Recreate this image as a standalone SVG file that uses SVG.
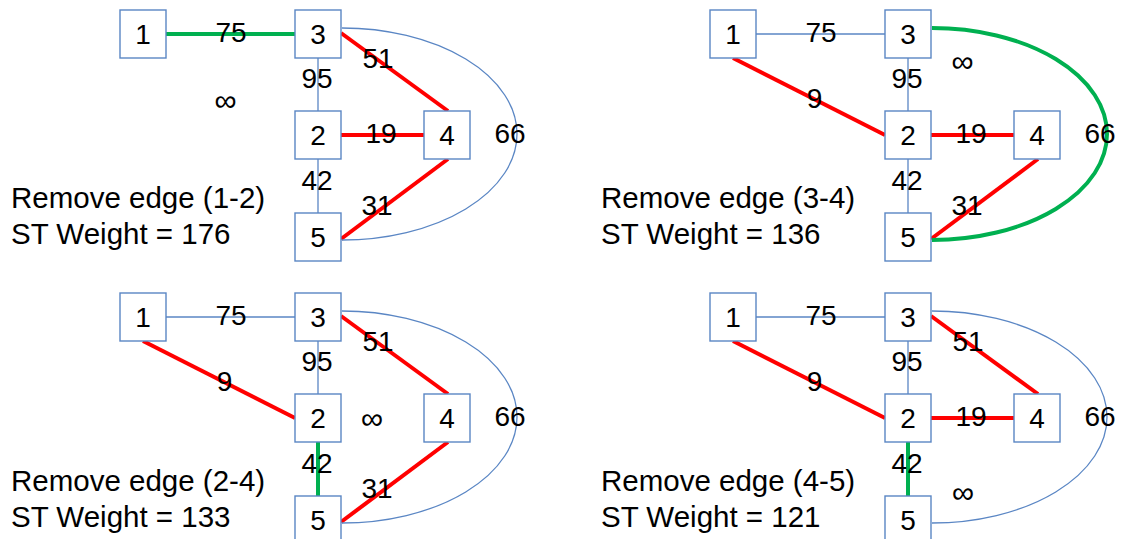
<svg xmlns="http://www.w3.org/2000/svg" width="1122" height="539" viewBox="0 0 1122 539">
<style>
.bg{fill:#ffffff}
.box{fill:#ffffff;stroke:#5a86c4;stroke-width:1.4}
.thin{fill:none;stroke:#5a86c4;stroke-width:1.3}
.red{fill:none;stroke:#ff0000;stroke-width:4}
.green{fill:none;stroke:#00b050;stroke-width:4}
text{font-family:"Liberation Sans",Arial,sans-serif;fill:#000000}
.nl{font-size:28px;text-anchor:middle}
.el{font-size:28px;text-anchor:middle}
.inf{font-size:31px;text-anchor:middle}
.cap{font-size:29.5px}
</style>
<rect class="bg" x="0" y="0" width="1122" height="539"/>

<!-- Panel TL -->
<g id="panel-tl">
  <g id="tl-edges">
    <line class="green" x1="166" y1="34" x2="295" y2="34"/>
    <line class="thin" x1="318" y1="58" x2="318" y2="111"/>
    <line class="thin" x1="318" y1="159" x2="318" y2="213"/>
    <line class="red" x1="341" y1="135" x2="424" y2="135"/>
    <line class="red" x1="341" y1="33" x2="448" y2="111"/>
    <line class="red" x1="448" y1="159" x2="341" y2="239"/>
    <path class="thin" d="M342,28 A175,106 0 0 1 342,240"/>
    <text class="el" x="231" y="42">75</text>
    <text class="el" x="378" y="68">51</text>
    <text class="el" x="317" y="88">95</text>
    <text class="inf" x="225.5" y="110.5">∞</text>
    <text class="el" x="381" y="143">19</text>
    <text class="el" x="510" y="143">66</text>
    <text class="el" x="317" y="190">42</text>
    <text class="el" x="377" y="215">31</text>
  </g>
  <g id="tl-n1"><rect class="box" x="120" y="10" width="46" height="48"/><text class="nl" x="143" y="44">1</text></g>
  <g id="tl-n3"><rect class="box" x="295" y="10" width="46" height="48"/><text class="nl" x="318" y="44">3</text></g>
  <g id="tl-n2"><rect class="box" x="295" y="111" width="46" height="48"/><text class="nl" x="318" y="145">2</text></g>
  <g id="tl-n4"><rect class="box" x="424" y="111" width="46" height="48"/><text class="nl" x="447" y="145">4</text></g>
  <g id="tl-n5"><rect class="box" x="295" y="213" width="46" height="48"/><text class="nl" x="318" y="247">5</text></g>
  <text class="cap" x="11" y="208">Remove edge (1-2)</text>
  <text class="cap" x="11" y="244">ST Weight = 176</text>
</g>

<!-- Panel TR -->
<g id="panel-tr" transform="translate(590,0)">
  <g id="tr-edges">
    <line class="thin" x1="166" y1="34" x2="295" y2="34"/>
    <line class="red" x1="143" y1="58" x2="295" y2="135"/>
    <line class="thin" x1="318" y1="58" x2="318" y2="111"/>
    <line class="thin" x1="318" y1="159" x2="318" y2="213"/>
    <line class="red" x1="341" y1="135" x2="424" y2="135"/>
    <line class="red" x1="448" y1="159" x2="341" y2="239"/>
    <path class="green" d="M342,28 A175,106 0 0 1 342,240"/>
    <text class="el" x="231" y="42">75</text>
    <text class="inf" x="372.5" y="71.5">∞</text>
    <text class="el" x="317" y="88">95</text>
    <text class="el" x="224.5" y="108">9</text>
    <text class="el" x="381" y="143">19</text>
    <text class="el" x="510" y="143">66</text>
    <text class="el" x="317" y="190">42</text>
    <text class="el" x="377" y="215">31</text>
  </g>
  <g id="tr-n1"><rect class="box" x="120" y="10" width="46" height="48"/><text class="nl" x="143" y="44">1</text></g>
  <g id="tr-n3"><rect class="box" x="295" y="10" width="46" height="48"/><text class="nl" x="318" y="44">3</text></g>
  <g id="tr-n2"><rect class="box" x="295" y="111" width="46" height="48"/><text class="nl" x="318" y="145">2</text></g>
  <g id="tr-n4"><rect class="box" x="424" y="111" width="46" height="48"/><text class="nl" x="447" y="145">4</text></g>
  <g id="tr-n5"><rect class="box" x="295" y="213" width="46" height="48"/><text class="nl" x="318" y="247">5</text></g>
  <text class="cap" x="11" y="208">Remove edge (3-4)</text>
  <text class="cap" x="11" y="244">ST Weight = 136</text>
</g>

<!-- Panel BL -->
<g id="panel-bl" transform="translate(0,283)">
  <g id="bl-edges">
    <line class="thin" x1="166" y1="34" x2="295" y2="34"/>
    <line class="red" x1="143" y1="58" x2="295" y2="135"/>
    <line class="thin" x1="318" y1="58" x2="318" y2="111"/>
    <line class="green" x1="318" y1="159" x2="318" y2="213"/>
    <line class="red" x1="341" y1="33" x2="448" y2="111"/>
    <line class="red" x1="448" y1="159" x2="341" y2="239"/>
    <path class="thin" d="M342,28 A175,106 0 0 1 342,240"/>
    <text class="el" x="231" y="42">75</text>
    <text class="el" x="378" y="68">51</text>
    <text class="el" x="317" y="88">95</text>
    <text class="el" x="224.5" y="108">9</text>
    <text class="inf" x="372" y="145.5">∞</text>
    <text class="el" x="510" y="143">66</text>
    <text class="el" x="317" y="190">42</text>
    <text class="el" x="377" y="215">31</text>
  </g>
  <g id="bl-n1"><rect class="box" x="120" y="10" width="46" height="48"/><text class="nl" x="143" y="44">1</text></g>
  <g id="bl-n3"><rect class="box" x="295" y="10" width="46" height="48"/><text class="nl" x="318" y="44">3</text></g>
  <g id="bl-n2"><rect class="box" x="295" y="111" width="46" height="48"/><text class="nl" x="318" y="145">2</text></g>
  <g id="bl-n4"><rect class="box" x="424" y="111" width="46" height="48"/><text class="nl" x="447" y="145">4</text></g>
  <g id="bl-n5"><rect class="box" x="295" y="213" width="46" height="48"/><text class="nl" x="318" y="247">5</text></g>
  <text class="cap" x="11" y="208">Remove edge (2-4)</text>
  <text class="cap" x="11" y="244">ST Weight = 133</text>
</g>

<!-- Panel BR -->
<g id="panel-br" transform="translate(590,283)">
  <g id="br-edges">
    <line class="thin" x1="166" y1="34" x2="295" y2="34"/>
    <line class="red" x1="143" y1="58" x2="295" y2="135"/>
    <line class="thin" x1="318" y1="58" x2="318" y2="111"/>
    <line class="green" x1="318" y1="159" x2="318" y2="213"/>
    <line class="red" x1="341" y1="33" x2="448" y2="111"/>
    <line class="red" x1="341" y1="135" x2="424" y2="135"/>
    <path class="thin" d="M342,28 A175,106 0 0 1 342,240"/>
    <text class="el" x="231" y="42">75</text>
    <text class="el" x="378" y="68">51</text>
    <text class="el" x="317" y="88">95</text>
    <text class="el" x="224.5" y="108">9</text>
    <text class="el" x="381" y="143">19</text>
    <text class="el" x="510" y="143">66</text>
    <text class="el" x="317" y="190">42</text>
    <text class="inf" x="373" y="220">∞</text>
  </g>
  <g id="br-n1"><rect class="box" x="120" y="10" width="46" height="48"/><text class="nl" x="143" y="44">1</text></g>
  <g id="br-n3"><rect class="box" x="295" y="10" width="46" height="48"/><text class="nl" x="318" y="44">3</text></g>
  <g id="br-n2"><rect class="box" x="295" y="111" width="46" height="48"/><text class="nl" x="318" y="145">2</text></g>
  <g id="br-n4"><rect class="box" x="424" y="111" width="46" height="48"/><text class="nl" x="447" y="145">4</text></g>
  <g id="br-n5"><rect class="box" x="295" y="213" width="46" height="48"/><text class="nl" x="318" y="247">5</text></g>
  <text class="cap" x="11" y="208">Remove edge (4-5)</text>
  <text class="cap" x="11" y="244">ST Weight = 121</text>
</g>
</svg>
